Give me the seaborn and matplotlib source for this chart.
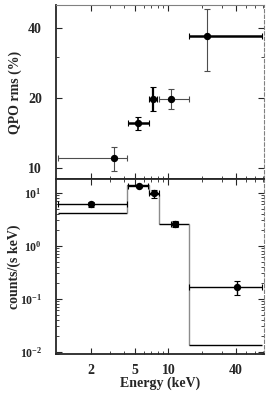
import numpy as np
import matplotlib
matplotlib.use("Agg")
import matplotlib.pyplot as plt
import matplotlib.ticker as mticker
import seaborn as sns

# --- data ---
# top panel: QPO rms amplitude vs energy
rms_energy = [3.26, 5.33, 7.33, 10.5, 22.3]
rms_e_lo = [1.02, 4.30, 6.65, 8.18, 15.4]
rms_e_hi = [4.27, 6.70, 7.91, 15.4, 68.4]
rms_value = [11.1, 15.6, 19.8, 19.8, 37.0]
rms_lo = [9.7, 14.6, 17.6, 17.9, 26.1]
rms_hi = [12.3, 16.6, 22.2, 21.8, 48.0]

# bottom panel: count spectrum
spec_energy = [2.0, 5.4, 7.43, 11.4, 41.6]
spec_e_lo = [1.02, 4.30, 6.70, 10.6, 15.4]
spec_e_hi = [4.27, 6.60, 8.20, 12.1, 68.4]
spec_value = [6.0, 13.5, 9.7, 2.57, 0.165]
spec_lo = [5.3, 12.9, 7.9, 2.27, 0.115]
spec_hi = [6.76, 14.1, 11.1, 2.95, 0.218]

# step model
model_edges = [1.02, 4.27, 6.65, 8.18, 15.4, 68.4]
model_value = [4.16, 13.8, 9.45, 2.6, 0.0133]

x_ticks = [2, 5, 10, 40]
rms_ticks = [10, 20, 40]

# line widths per point (thick = one instrument, thin = other)
rms_xlw = [0.8, 1.8, 1.8, 0.8, 1.8]
rms_ylw = [0.8, 1.2, 1.6, 0.8, 0.8]

sns.set_theme(style="ticks")
plt.rcParams["font.family"] = ["Liberation Serif", "DejaVu Serif"]
plt.rcParams["font.weight"] = "bold"
plt.rcParams["mathtext.fontset"] = "custom"
plt.rcParams["mathtext.rm"] = "Liberation Serif:bold"
plt.rcParams["mathtext.it"] = "Liberation Serif:italic:bold"
plt.rcParams["mathtext.default"] = "rm"
plt.rcParams["xtick.direction"] = "in"
plt.rcParams["ytick.direction"] = "in"

fig = plt.figure(figsize=(2.73, 3.97), dpi=100)
ax1 = fig.add_axes([0.205, 0.549, 0.762, 0.438])
ax2 = fig.add_axes([0.205, 0.108, 0.762, 0.441], sharex=ax1)

# --- top panel ---
for i in range(len(rms_energy)):
    x, y = rms_energy[i], rms_value[i]
    ax1.errorbar(x, y, xerr=[[x - rms_e_lo[i]], [rms_e_hi[i] - x]],
                 fmt="none", ecolor="black" if rms_xlw[i] > 1 else "0.3",
                 elinewidth=rms_xlw[i], capsize=2, capthick=0.8)
    ax1.errorbar(x, y, yerr=[[y - rms_lo[i]], [rms_hi[i] - y]],
                 fmt="none", ecolor="black" if rms_ylw[i] > 1 else "0.3",
                 elinewidth=rms_ylw[i], capsize=2.5, capthick=0.8)
sns.scatterplot(x=rms_energy, y=rms_value, ax=ax1, color="black", s=28,
                edgecolor="black", linewidth=0, zorder=5)

ax1.set_xscale("log")
ax1.set_yscale("log")
ax1.set_xlim(0.98, 72)
ax1.set_ylim(9, 50)
ax1.yaxis.set_major_locator(mticker.FixedLocator(rms_ticks))
ax1.yaxis.set_major_formatter(mticker.FixedFormatter([str(t) for t in rms_ticks]))
ax1.yaxis.set_minor_locator(mticker.FixedLocator([30]))
ax1.yaxis.set_minor_formatter(mticker.NullFormatter())
ax1.set_ylabel("QPO rms (%)", fontsize=10, fontweight="bold")
ax1.tick_params(axis="x", which="both", labelbottom=False, top=True, bottom=True)
ax1.tick_params(axis="y", which="both", right=True)

# --- bottom panel ---
for i in range(len(model_value)):
    ax2.hlines(model_value[i], model_edges[i], model_edges[i + 1],
               color="black", lw=1.0)
    if i + 1 < len(model_value):
        ax2.vlines(model_edges[i + 1], model_value[i + 1], model_value[i],
                   color="0.55", lw=1.0)

for i in range(len(spec_energy)):
    x, y = spec_energy[i], spec_value[i]
    ax2.errorbar(x, y, xerr=[[x - spec_e_lo[i]], [spec_e_hi[i] - x]],
                 yerr=[[y - spec_lo[i]], [spec_hi[i] - y]],
                 fmt="none", ecolor="black", elinewidth=1.0,
                 capsize=2, capthick=0.8)
sns.scatterplot(x=spec_energy, y=spec_value, ax=ax2, color="black", s=28,
                edgecolor="black", linewidth=0, zorder=5)

ax2.set_yscale("log")
ax2.set_ylim(0.009, 18)
ax2.yaxis.set_major_locator(mticker.LogLocator(base=10))
ax2.yaxis.set_major_formatter(mticker.LogFormatterSciNotation())
ax2.xaxis.set_major_locator(mticker.FixedLocator(x_ticks))
ax2.xaxis.set_major_formatter(mticker.FixedFormatter([str(t) for t in x_ticks]))
ax2.xaxis.set_minor_formatter(mticker.NullFormatter())
ax2.set_xlabel("Energy (keV)", fontsize=10, fontweight="bold", labelpad=0)
ax2.set_ylabel("counts/(s keV)", fontsize=10, fontweight="bold")
ax2.tick_params(axis="both", which="both", top=True, right=True)

for ax in (ax1, ax2):
    ax.tick_params(which="major", length=4, width=0.8, labelsize=10)
    ax.tick_params(which="minor", length=2, width=0.6)
    ax.tick_params(axis="y", which="major", pad=10)
    ax.tick_params(axis="x", which="major", pad=7)
    ax.spines["left"].set_linewidth(1.3)
    ax.spines["bottom"].set_linewidth(1.3)
    ax.spines["top"].set_linewidth(1.3)
    ax.spines["right"].set_linestyle((0, (3, 2)))
    ax.spines["right"].set_color("0.5")
    ax.spines["right"].set_linewidth(0.8)
ax1.spines["top"].set_color("0.5")
ax1.spines["top"].set_linewidth(0.8)
ax2.tick_params(axis="y", which="major", labelsize=8.5)

ax1.yaxis.set_label_coords(-0.165, 0.5)
ax2.yaxis.set_label_coords(-0.17, 0.5)

fig.savefig("out.png", dpi=100)
